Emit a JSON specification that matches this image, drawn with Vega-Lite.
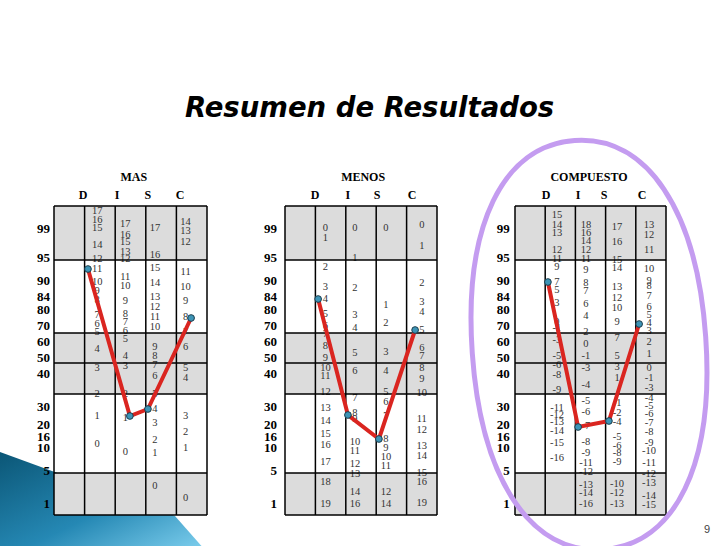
{
  "$schema": "https://vega.github.io/schema/vega-lite/v6.json",
  "background": "white",
  "padding": {"left": 0, "top": 95, "right": 0, "bottom": 0},
  "bounds": "flush",
  "spacing": 78,
  "config": {"view": {"stroke": null}},
  "datasets": {
    "bands": [{"from": 309, "to": 255}, {"from": 182, "to": 121}, {"from": 42, "to": 0}],
    "hlines": [{"pos": 309}, {"pos": 255}, {"pos": 182}, {"pos": 152}, {"pos": 121}, {"pos": 42}, {"pos": 0}],
    "vlines": [{"x": 0}, {"x": 1}, {"x": 2}, {"x": 3}, {"x": 4}, {"x": 5}],
    "scale": [
      {"pct": "99", "pos": 286}, {"pct": "95", "pos": 257}, {"pct": "90", "pos": 234}, {"pct": "84", "pos": 218},
      {"pct": "80", "pos": 205}, {"pct": "70", "pos": 189}, {"pct": "60", "pos": 173}, {"pct": "50", "pos": 157},
      {"pct": "40", "pos": 141}, {"pct": "30", "pos": 108}, {"pct": "20", "pos": 90}, {"pct": "16", "pos": 78},
      {"pct": "10", "pos": 67}, {"pct": "5", "pos": 44}, {"pct": "1", "pos": 11}
    ],
    "cols_MAS": [{"col": "D", "x": 1.41}, {"col": "I", "x": 2.33}, {"col": "S", "x": 3.3}, {"col": "C", "x": 4.3}],
    "cols_MENOS": [{"col": "D", "x": 1.33}, {"col": "I", "x": 2.3}, {"col": "S", "x": 3.32}, {"col": "C", "x": 4.5}],
    "cols_COMPUESTO": [{"col": "D", "x": 1.39}, {"col": "I", "x": 2.35}, {"col": "S", "x": 3.38}, {"col": "C", "x": 4.44}],
    "heads": [
      {"panel": "MAS", "label": "MAS", "x": 2.61, "pos": 338},
      {"panel": "MAS", "label": "D", "x": 0.95, "pos": 320},
      {"panel": "MAS", "label": "I", "x": 2.06, "pos": 320},
      {"panel": "MAS", "label": "S", "x": 3.07, "pos": 320},
      {"panel": "MAS", "label": "C", "x": 4.12, "pos": 320},
      {"panel": "MENOS", "label": "MENOS", "x": 2.57, "pos": 338},
      {"panel": "MENOS", "label": "D", "x": 0.99, "pos": 320},
      {"panel": "MENOS", "label": "I", "x": 2.07, "pos": 320},
      {"panel": "MENOS", "label": "S", "x": 3.03, "pos": 320},
      {"panel": "MENOS", "label": "C", "x": 4.18, "pos": 320},
      {"panel": "COMPUESTO", "label": "COMPUESTO", "x": 2.45, "pos": 338},
      {"panel": "COMPUESTO", "label": "D", "x": 1.03, "pos": 320},
      {"panel": "COMPUESTO", "label": "I", "x": 2.09, "pos": 320},
      {"panel": "COMPUESTO", "label": "S", "x": 2.95, "pos": 320},
      {"panel": "COMPUESTO", "label": "C", "x": 4.21, "pos": 320}
    ],
    "dots": [
      {"panel": "MAS", "col": "D", "ord": 1, "x": 1.11, "pos": 246},
      {"panel": "MAS", "col": "I", "ord": 2, "x": 2.48, "pos": 99},
      {"panel": "MAS", "col": "S", "ord": 3, "x": 3.07, "pos": 106},
      {"panel": "MAS", "col": "C", "ord": 4, "x": 4.48, "pos": 197},
      {"panel": "MENOS", "col": "D", "ord": 1, "x": 1.09, "pos": 216},
      {"panel": "MENOS", "col": "I", "ord": 2, "x": 2.07, "pos": 100},
      {"panel": "MENOS", "col": "S", "ord": 3, "x": 3.09, "pos": 76},
      {"panel": "MENOS", "col": "C", "ord": 4, "x": 4.28, "pos": 185},
      {"panel": "COMPUESTO", "col": "D", "ord": 1, "x": 1.09, "pos": 233},
      {"panel": "COMPUESTO", "col": "I", "ord": 2, "x": 2.09, "pos": 88},
      {"panel": "COMPUESTO", "col": "S", "ord": 3, "x": 3.11, "pos": 94},
      {"panel": "COMPUESTO", "col": "C", "ord": 4, "x": 4.11, "pos": 191}
    ],
    "slide": [
      {"item": "swoosh", "x": 0, "pos": 0},
      {"item": "title", "label": "Resumen de Resultados", "x": 2.78, "pos": 398},
      {"item": "ring", "x": 2.45, "pos": 170},
      {"item": "page", "label": "9", "x": 6.36, "pos": -15}
    ],
    "cells": [
      {"panel":"MAS","col":"D","score":"17","pos":304},{"panel":"MAS","col":"D","score":"16","pos":295},{"panel":"MAS","col":"D","score":"15","pos":287},{"panel":"MAS","col":"D","score":"14","pos":270},{"panel":"MAS","col":"D","score":"12","pos":256},{"panel":"MAS","col":"D","score":"11","pos":246},{"panel":"MAS","col":"D","score":"10","pos":233},{"panel":"MAS","col":"D","score":"9","pos":224},{"panel":"MAS","col":"D","score":"8","pos":215},{"panel":"MAS","col":"D","score":"7","pos":200},{"panel":"MAS","col":"D","score":"6","pos":191},{"panel":"MAS","col":"D","score":"5","pos":183},{"panel":"MAS","col":"D","score":"4","pos":166},{"panel":"MAS","col":"D","score":"3","pos":147},{"panel":"MAS","col":"D","score":"2","pos":121},{"panel":"MAS","col":"D","score":"1","pos":99},{"panel":"MAS","col":"D","score":"0","pos":71},
      {"panel":"MAS","col":"I","score":"17","pos":291},{"panel":"MAS","col":"I","score":"16","pos":280},{"panel":"MAS","col":"I","score":"15","pos":273},{"panel":"MAS","col":"I","score":"13","pos":263},{"panel":"MAS","col":"I","score":"12","pos":256},{"panel":"MAS","col":"I","score":"11","pos":238},{"panel":"MAS","col":"I","score":"10","pos":229},{"panel":"MAS","col":"I","score":"9","pos":214},{"panel":"MAS","col":"I","score":"8","pos":201},{"panel":"MAS","col":"I","score":"7","pos":193},{"panel":"MAS","col":"I","score":"6","pos":184},{"panel":"MAS","col":"I","score":"5","pos":176},{"panel":"MAS","col":"I","score":"4","pos":159},{"panel":"MAS","col":"I","score":"3","pos":149},{"panel":"MAS","col":"I","score":"2","pos":121},{"panel":"MAS","col":"I","score":"1","pos":97},{"panel":"MAS","col":"I","score":"0","pos":63},
      {"panel":"MAS","col":"S","score":"17","pos":287},{"panel":"MAS","col":"S","score":"16","pos":260},{"panel":"MAS","col":"S","score":"15","pos":247},{"panel":"MAS","col":"S","score":"14","pos":232},{"panel":"MAS","col":"S","score":"13","pos":218},{"panel":"MAS","col":"S","score":"12","pos":208},{"panel":"MAS","col":"S","score":"11","pos":198},{"panel":"MAS","col":"S","score":"10","pos":188},{"panel":"MAS","col":"S","score":"9","pos":168},{"panel":"MAS","col":"S","score":"8","pos":159},{"panel":"MAS","col":"S","score":"7","pos":150},{"panel":"MAS","col":"S","score":"6","pos":139},{"panel":"MAS","col":"S","score":"5","pos":121},{"panel":"MAS","col":"S","score":"4","pos":106},{"panel":"MAS","col":"S","score":"3","pos":92},{"panel":"MAS","col":"S","score":"2","pos":75},{"panel":"MAS","col":"S","score":"1","pos":62},{"panel":"MAS","col":"S","score":"0","pos":29},
      {"panel":"MAS","col":"C","score":"14","pos":293},{"panel":"MAS","col":"C","score":"13","pos":284},{"panel":"MAS","col":"C","score":"12","pos":273},{"panel":"MAS","col":"C","score":"11","pos":243},{"panel":"MAS","col":"C","score":"10","pos":228},{"panel":"MAS","col":"C","score":"9","pos":214},{"panel":"MAS","col":"C","score":"8","pos":198},{"panel":"MAS","col":"C","score":"7","pos":183},{"panel":"MAS","col":"C","score":"6","pos":168},{"panel":"MAS","col":"C","score":"5","pos":147},{"panel":"MAS","col":"C","score":"4","pos":137},{"panel":"MAS","col":"C","score":"3","pos":99},{"panel":"MAS","col":"C","score":"2","pos":83},{"panel":"MAS","col":"C","score":"1","pos":67},{"panel":"MAS","col":"C","score":"0","pos":17},
      {"panel":"MENOS","col":"D","score":"0","pos":287},{"panel":"MENOS","col":"D","score":"1","pos":277},{"panel":"MENOS","col":"D","score":"2","pos":248},{"panel":"MENOS","col":"D","score":"3","pos":228},{"panel":"MENOS","col":"D","score":"4","pos":216},{"panel":"MENOS","col":"D","score":"5","pos":201},{"panel":"MENOS","col":"D","score":"6","pos":189},{"panel":"MENOS","col":"D","score":"7","pos":181},{"panel":"MENOS","col":"D","score":"8","pos":169},{"panel":"MENOS","col":"D","score":"9","pos":157},{"panel":"MENOS","col":"D","score":"10","pos":147},{"panel":"MENOS","col":"D","score":"11","pos":139},{"panel":"MENOS","col":"D","score":"12","pos":123},{"panel":"MENOS","col":"D","score":"13","pos":107},{"panel":"MENOS","col":"D","score":"14","pos":94},{"panel":"MENOS","col":"D","score":"15","pos":81},{"panel":"MENOS","col":"D","score":"16","pos":70},{"panel":"MENOS","col":"D","score":"17","pos":53},{"panel":"MENOS","col":"D","score":"18","pos":33},{"panel":"MENOS","col":"D","score":"19","pos":11},
      {"panel":"MENOS","col":"I","score":"0","pos":287},{"panel":"MENOS","col":"I","score":"1","pos":257},{"panel":"MENOS","col":"I","score":"2","pos":227},{"panel":"MENOS","col":"I","score":"3","pos":200},{"panel":"MENOS","col":"I","score":"4","pos":187},{"panel":"MENOS","col":"I","score":"5","pos":162},{"panel":"MENOS","col":"I","score":"6","pos":144},{"panel":"MENOS","col":"I","score":"7","pos":117},{"panel":"MENOS","col":"I","score":"8","pos":102},{"panel":"MENOS","col":"I","score":"9","pos":96},{"panel":"MENOS","col":"I","score":"10","pos":73},{"panel":"MENOS","col":"I","score":"11","pos":64},{"panel":"MENOS","col":"I","score":"12","pos":51},{"panel":"MENOS","col":"I","score":"13","pos":41},{"panel":"MENOS","col":"I","score":"14","pos":23},{"panel":"MENOS","col":"I","score":"16","pos":11},
      {"panel":"MENOS","col":"S","score":"0","pos":287},{"panel":"MENOS","col":"S","score":"1","pos":210},{"panel":"MENOS","col":"S","score":"2","pos":192},{"panel":"MENOS","col":"S","score":"3","pos":163},{"panel":"MENOS","col":"S","score":"4","pos":144},{"panel":"MENOS","col":"S","score":"5","pos":123},{"panel":"MENOS","col":"S","score":"6","pos":113},{"panel":"MENOS","col":"S","score":"7","pos":99},{"panel":"MENOS","col":"S","score":"8","pos":76},{"panel":"MENOS","col":"S","score":"9","pos":67},{"panel":"MENOS","col":"S","score":"10","pos":58},{"panel":"MENOS","col":"S","score":"11","pos":49},{"panel":"MENOS","col":"S","score":"12","pos":23},{"panel":"MENOS","col":"S","score":"14","pos":11},
      {"panel":"MENOS","col":"C","score":"0","pos":290},{"panel":"MENOS","col":"C","score":"1","pos":269},{"panel":"MENOS","col":"C","score":"2","pos":232},{"panel":"MENOS","col":"C","score":"3","pos":213},{"panel":"MENOS","col":"C","score":"4","pos":203},{"panel":"MENOS","col":"C","score":"5","pos":185},{"panel":"MENOS","col":"C","score":"6","pos":167},{"panel":"MENOS","col":"C","score":"7","pos":159},{"panel":"MENOS","col":"C","score":"8","pos":147},{"panel":"MENOS","col":"C","score":"9","pos":136},{"panel":"MENOS","col":"C","score":"10","pos":122},{"panel":"MENOS","col":"C","score":"11","pos":96},{"panel":"MENOS","col":"C","score":"12","pos":85},{"panel":"MENOS","col":"C","score":"13","pos":69},{"panel":"MENOS","col":"C","score":"14","pos":59},{"panel":"MENOS","col":"C","score":"15","pos":42},{"panel":"MENOS","col":"C","score":"16","pos":33},{"panel":"MENOS","col":"C","score":"19","pos":12},
      {"panel":"COMPUESTO","col":"D","score":"15","pos":300},{"panel":"COMPUESTO","col":"D","score":"14","pos":290},{"panel":"COMPUESTO","col":"D","score":"13","pos":282},{"panel":"COMPUESTO","col":"D","score":"12","pos":265},{"panel":"COMPUESTO","col":"D","score":"11","pos":256},{"panel":"COMPUESTO","col":"D","score":"9","pos":248},{"panel":"COMPUESTO","col":"D","score":"7","pos":233},{"panel":"COMPUESTO","col":"D","score":"5","pos":225},{"panel":"COMPUESTO","col":"D","score":"3","pos":212},{"panel":"COMPUESTO","col":"D","score":"0","pos":193},{"panel":"COMPUESTO","col":"D","score":"-1","pos":187},{"panel":"COMPUESTO","col":"D","score":"-3","pos":175},{"panel":"COMPUESTO","col":"D","score":"-5","pos":159},{"panel":"COMPUESTO","col":"D","score":"-6","pos":150},{"panel":"COMPUESTO","col":"D","score":"-8","pos":140},{"panel":"COMPUESTO","col":"D","score":"-9","pos":125},{"panel":"COMPUESTO","col":"D","score":"-11","pos":107},{"panel":"COMPUESTO","col":"D","score":"-12","pos":100},{"panel":"COMPUESTO","col":"D","score":"-13","pos":93},{"panel":"COMPUESTO","col":"D","score":"-14","pos":84},{"panel":"COMPUESTO","col":"D","score":"-15","pos":72},{"panel":"COMPUESTO","col":"D","score":"-16","pos":57},
      {"panel":"COMPUESTO","col":"I","score":"18","pos":290},{"panel":"COMPUESTO","col":"I","score":"16","pos":282},{"panel":"COMPUESTO","col":"I","score":"14","pos":274},{"panel":"COMPUESTO","col":"I","score":"12","pos":265},{"panel":"COMPUESTO","col":"I","score":"11","pos":256},{"panel":"COMPUESTO","col":"I","score":"9","pos":245},{"panel":"COMPUESTO","col":"I","score":"8","pos":232},{"panel":"COMPUESTO","col":"I","score":"7","pos":224},{"panel":"COMPUESTO","col":"I","score":"6","pos":211},{"panel":"COMPUESTO","col":"I","score":"4","pos":199},{"panel":"COMPUESTO","col":"I","score":"2","pos":183},{"panel":"COMPUESTO","col":"I","score":"0","pos":171},{"panel":"COMPUESTO","col":"I","score":"-1","pos":159},{"panel":"COMPUESTO","col":"I","score":"-3","pos":147},{"panel":"COMPUESTO","col":"I","score":"-4","pos":130},{"panel":"COMPUESTO","col":"I","score":"-5","pos":114},{"panel":"COMPUESTO","col":"I","score":"-6","pos":103},{"panel":"COMPUESTO","col":"I","score":"-7","pos":89},{"panel":"COMPUESTO","col":"I","score":"-8","pos":73},{"panel":"COMPUESTO","col":"I","score":"-9","pos":62},{"panel":"COMPUESTO","col":"I","score":"-11","pos":52},{"panel":"COMPUESTO","col":"I","score":"-12","pos":43},{"panel":"COMPUESTO","col":"I","score":"-13","pos":30},{"panel":"COMPUESTO","col":"I","score":"-14","pos":22},{"panel":"COMPUESTO","col":"I","score":"-16","pos":11},
      {"panel":"COMPUESTO","col":"S","score":"17","pos":288},{"panel":"COMPUESTO","col":"S","score":"16","pos":273},{"panel":"COMPUESTO","col":"S","score":"15","pos":255},{"panel":"COMPUESTO","col":"S","score":"14","pos":247},{"panel":"COMPUESTO","col":"S","score":"13","pos":228},{"panel":"COMPUESTO","col":"S","score":"12","pos":217},{"panel":"COMPUESTO","col":"S","score":"10","pos":207},{"panel":"COMPUESTO","col":"S","score":"9","pos":193},{"panel":"COMPUESTO","col":"S","score":"7","pos":177},{"panel":"COMPUESTO","col":"S","score":"5","pos":159},{"panel":"COMPUESTO","col":"S","score":"3","pos":148},{"panel":"COMPUESTO","col":"S","score":"1","pos":137},{"panel":"COMPUESTO","col":"S","score":"-1","pos":112},{"panel":"COMPUESTO","col":"S","score":"-2","pos":102},{"panel":"COMPUESTO","col":"S","score":"-4","pos":93},{"panel":"COMPUESTO","col":"S","score":"-5","pos":78},{"panel":"COMPUESTO","col":"S","score":"-6","pos":69},{"panel":"COMPUESTO","col":"S","score":"-8","pos":62},{"panel":"COMPUESTO","col":"S","score":"-9","pos":53},{"panel":"COMPUESTO","col":"S","score":"-10","pos":31},{"panel":"COMPUESTO","col":"S","score":"-12","pos":22},{"panel":"COMPUESTO","col":"S","score":"-13","pos":11},
      {"panel":"COMPUESTO","col":"C","score":"13","pos":290},{"panel":"COMPUESTO","col":"C","score":"12","pos":280},{"panel":"COMPUESTO","col":"C","score":"11","pos":265},{"panel":"COMPUESTO","col":"C","score":"10","pos":246},{"panel":"COMPUESTO","col":"C","score":"9","pos":234},{"panel":"COMPUESTO","col":"C","score":"8","pos":229},{"panel":"COMPUESTO","col":"C","score":"7","pos":219},{"panel":"COMPUESTO","col":"C","score":"6","pos":208},{"panel":"COMPUESTO","col":"C","score":"5","pos":200},{"panel":"COMPUESTO","col":"C","score":"4","pos":192},{"panel":"COMPUESTO","col":"C","score":"3","pos":184},{"panel":"COMPUESTO","col":"C","score":"2","pos":173},{"panel":"COMPUESTO","col":"C","score":"1","pos":161},{"panel":"COMPUESTO","col":"C","score":"0","pos":147},{"panel":"COMPUESTO","col":"C","score":"-1","pos":137},{"panel":"COMPUESTO","col":"C","score":"-3","pos":127},{"panel":"COMPUESTO","col":"C","score":"-4","pos":117},{"panel":"COMPUESTO","col":"C","score":"-5","pos":109},{"panel":"COMPUESTO","col":"C","score":"-6","pos":101},{"panel":"COMPUESTO","col":"C","score":"-7","pos":92},{"panel":"COMPUESTO","col":"C","score":"-8","pos":83},{"panel":"COMPUESTO","col":"C","score":"-9","pos":72},{"panel":"COMPUESTO","col":"C","score":"-10","pos":64},{"panel":"COMPUESTO","col":"C","score":"-11","pos":52},{"panel":"COMPUESTO","col":"C","score":"-12","pos":41},{"panel":"COMPUESTO","col":"C","score":"-13","pos":32},{"panel":"COMPUESTO","col":"C","score":"-14","pos":19},{"panel":"COMPUESTO","col":"C","score":"-15","pos":10}
    ]
  },
  "hconcat": [
    {
      "width": 153, "height": 309,
      "layer": [
        {"data": {"name": "slide"}, "transform": [{"filter": "datum.item === 'swoosh'"}],
         "mark": {"type": "point", "shape": "M -54 -63 L 121 1 L 151 35 L -54 35 Z", "size": 4, "filled": true, "opacity": 1, "strokeWidth": 0,
           "fill": {"gradient": "linear", "x1": 0, "y1": 0, "x2": 1, "y2": 1, "stops": [{"offset": 0, "color": "#0b5676"}, {"offset": 0.55, "color": "#2588b4"}, {"offset": 1, "color": "#7fd0ef"}]}},
         "encoding": {"x": {"field": "x", "type": "quantitative", "scale": {"domain": [0, 5], "nice": false, "zero": false}, "axis": null}, "y": {"field": "pos", "type": "quantitative", "scale": {"domain": [0, 309], "nice": false, "zero": false}, "axis": null}}},
        {"data": {"name": "bands"}, "mark": {"type": "rect", "color": "#dcdcdc"},
         "encoding": {"x": {"datum": 0, "type": "quantitative", "axis": null}, "x2": {"datum": 5}, "y": {"field": "from", "type": "quantitative", "axis": null}, "y2": {"field": "to"}}},
        {"data": {"name": "cells"}, "transform": [{"filter": "datum.panel === 'MAS'"}, {"lookup": "col", "from": {"data": {"name": "cols_MAS"}, "key": "col", "fields": ["x"]}}],
         "mark": {"type": "text", "font": "Liberation Serif", "fontSize": 10.5, "color": "#333333"},
         "encoding": {"x": {"field": "x", "type": "quantitative", "axis": null}, "y": {"field": "pos", "type": "quantitative", "axis": null}, "text": {"field": "score", "type": "nominal"}}},
        {"data": {"name": "hlines"}, "mark": {"type": "rule", "color": "#000000", "strokeWidth": 1.5},
         "encoding": {"x": {"datum": 0, "type": "quantitative", "axis": null}, "x2": {"datum": 5}, "y": {"field": "pos", "type": "quantitative", "axis": null}}},
        {"data": {"name": "vlines"}, "mark": {"type": "rule", "color": "#000000", "strokeWidth": 1.5},
         "encoding": {"x": {"field": "x", "type": "quantitative", "axis": null}, "y": {"datum": 0, "type": "quantitative", "axis": null}, "y2": {"datum": 309}}},
        {"data": {"name": "dots"}, "transform": [{"filter": "datum.panel === 'MAS'"}],
         "mark": {"type": "line", "color": "#da2520", "strokeWidth": 4},
         "encoding": {"x": {"field": "x", "type": "quantitative", "axis": null}, "y": {"field": "pos", "type": "quantitative", "axis": null}, "order": {"field": "ord", "type": "quantitative"}}},
        {"data": {"name": "dots"}, "transform": [{"filter": "datum.panel === 'MAS'"}],
         "mark": {"type": "point", "filled": true, "size": 45, "fill": "#3d94b6", "stroke": "#1c3e4d", "strokeWidth": 1, "opacity": 1},
         "encoding": {"x": {"field": "x", "type": "quantitative", "axis": null}, "y": {"field": "pos", "type": "quantitative", "axis": null}}},
        {"data": {"name": "heads"}, "transform": [{"filter": "datum.panel === 'MAS'"}],
         "mark": {"type": "text", "font": "Liberation Serif", "fontWeight": "bold", "fontSize": 12, "color": "#000000"},
         "encoding": {"x": {"field": "x", "type": "quantitative", "axis": null}, "y": {"field": "pos", "type": "quantitative", "axis": null}, "text": {"field": "label", "type": "nominal"}}},
        {"data": {"name": "scale"},
         "mark": {"type": "text", "font": "Liberation Serif", "fontWeight": "bold", "fontSize": 13, "align": "right", "color": "#000000"},
         "encoding": {"x": {"datum": -0.13, "type": "quantitative", "axis": null}, "y": {"field": "pos", "type": "quantitative", "axis": null}, "text": {"field": "pct", "type": "nominal"}}}
      ]
    },
    {
      "width": 152, "height": 309,
      "layer": [
        {"data": {"name": "bands"}, "mark": {"type": "rect", "color": "#dcdcdc"},
         "encoding": {"x": {"datum": 0, "type": "quantitative", "scale": {"domain": [0, 5], "nice": false, "zero": false}, "axis": null}, "x2": {"datum": 5}, "y": {"field": "from", "type": "quantitative", "scale": {"domain": [0, 309], "nice": false, "zero": false}, "axis": null}, "y2": {"field": "to"}}},
        {"data": {"name": "cells"}, "transform": [{"filter": "datum.panel === 'MENOS'"}, {"lookup": "col", "from": {"data": {"name": "cols_MENOS"}, "key": "col", "fields": ["x"]}}],
         "mark": {"type": "text", "font": "Liberation Serif", "fontSize": 10.5, "color": "#333333"},
         "encoding": {"x": {"field": "x", "type": "quantitative", "axis": null}, "y": {"field": "pos", "type": "quantitative", "axis": null}, "text": {"field": "score", "type": "nominal"}}},
        {"data": {"name": "hlines"}, "mark": {"type": "rule", "color": "#000000", "strokeWidth": 1.5},
         "encoding": {"x": {"datum": 0, "type": "quantitative", "axis": null}, "x2": {"datum": 5}, "y": {"field": "pos", "type": "quantitative", "axis": null}}},
        {"data": {"name": "vlines"}, "mark": {"type": "rule", "color": "#000000", "strokeWidth": 1.5},
         "encoding": {"x": {"field": "x", "type": "quantitative", "axis": null}, "y": {"datum": 0, "type": "quantitative", "axis": null}, "y2": {"datum": 309}}},
        {"data": {"name": "dots"}, "transform": [{"filter": "datum.panel === 'MENOS'"}],
         "mark": {"type": "line", "color": "#da2520", "strokeWidth": 4},
         "encoding": {"x": {"field": "x", "type": "quantitative", "axis": null}, "y": {"field": "pos", "type": "quantitative", "axis": null}, "order": {"field": "ord", "type": "quantitative"}}},
        {"data": {"name": "dots"}, "transform": [{"filter": "datum.panel === 'MENOS'"}],
         "mark": {"type": "point", "filled": true, "size": 45, "fill": "#3d94b6", "stroke": "#1c3e4d", "strokeWidth": 1, "opacity": 1},
         "encoding": {"x": {"field": "x", "type": "quantitative", "axis": null}, "y": {"field": "pos", "type": "quantitative", "axis": null}}},
        {"data": {"name": "heads"}, "transform": [{"filter": "datum.panel === 'MENOS'"}],
         "mark": {"type": "text", "font": "Liberation Serif", "fontWeight": "bold", "fontSize": 12, "color": "#000000"},
         "encoding": {"x": {"field": "x", "type": "quantitative", "axis": null}, "y": {"field": "pos", "type": "quantitative", "axis": null}, "text": {"field": "label", "type": "nominal"}}},
        {"data": {"name": "scale"},
         "mark": {"type": "text", "font": "Liberation Serif", "fontWeight": "bold", "fontSize": 13, "align": "right", "color": "#000000"},
         "encoding": {"x": {"datum": -0.26, "type": "quantitative", "axis": null}, "y": {"field": "pos", "type": "quantitative", "axis": null}, "text": {"field": "pct", "type": "nominal"}}},
        {"data": {"name": "slide"}, "transform": [{"filter": "datum.item === 'title'"}],
         "mark": {"type": "text", "font": "DejaVu Sans", "fontWeight": "bold", "fontStyle": "italic", "fontSize": 27.5, "baseline": "alphabetic", "align": "center", "color": "#000000"},
         "encoding": {"x": {"field": "x", "type": "quantitative", "axis": null}, "y": {"field": "pos", "type": "quantitative", "axis": null}, "text": {"field": "label", "type": "nominal"}}}
      ]
    },
    {
      "width": 151, "height": 309,
      "layer": [
        {"data": {"name": "bands"}, "mark": {"type": "rect", "color": "#dcdcdc"},
         "encoding": {"x": {"datum": 0, "type": "quantitative", "scale": {"domain": [0, 5], "nice": false, "zero": false}, "axis": null}, "x2": {"datum": 5}, "y": {"field": "from", "type": "quantitative", "scale": {"domain": [0, 309], "nice": false, "zero": false}, "axis": null}, "y2": {"field": "to"}}},
        {"data": {"name": "cells"}, "transform": [{"filter": "datum.panel === 'COMPUESTO'"}, {"lookup": "col", "from": {"data": {"name": "cols_COMPUESTO"}, "key": "col", "fields": ["x"]}}],
         "mark": {"type": "text", "font": "Liberation Serif", "fontSize": 10.5, "color": "#333333"},
         "encoding": {"x": {"field": "x", "type": "quantitative", "axis": null}, "y": {"field": "pos", "type": "quantitative", "axis": null}, "text": {"field": "score", "type": "nominal"}}},
        {"data": {"name": "hlines"}, "mark": {"type": "rule", "color": "#000000", "strokeWidth": 1.5},
         "encoding": {"x": {"datum": 0, "type": "quantitative", "axis": null}, "x2": {"datum": 5}, "y": {"field": "pos", "type": "quantitative", "axis": null}}},
        {"data": {"name": "vlines"}, "mark": {"type": "rule", "color": "#000000", "strokeWidth": 1.5},
         "encoding": {"x": {"field": "x", "type": "quantitative", "axis": null}, "y": {"datum": 0, "type": "quantitative", "axis": null}, "y2": {"datum": 309}}},
        {"data": {"name": "dots"}, "transform": [{"filter": "datum.panel === 'COMPUESTO'"}],
         "mark": {"type": "line", "color": "#da2520", "strokeWidth": 4},
         "encoding": {"x": {"field": "x", "type": "quantitative", "axis": null}, "y": {"field": "pos", "type": "quantitative", "axis": null}, "order": {"field": "ord", "type": "quantitative"}}},
        {"data": {"name": "dots"}, "transform": [{"filter": "datum.panel === 'COMPUESTO'"}],
         "mark": {"type": "point", "filled": true, "size": 45, "fill": "#3d94b6", "stroke": "#1c3e4d", "strokeWidth": 1, "opacity": 1},
         "encoding": {"x": {"field": "x", "type": "quantitative", "axis": null}, "y": {"field": "pos", "type": "quantitative", "axis": null}}},
        {"data": {"name": "heads"}, "transform": [{"filter": "datum.panel === 'COMPUESTO'"}],
         "mark": {"type": "text", "font": "Liberation Serif", "fontWeight": "bold", "fontSize": 12, "color": "#000000"},
         "encoding": {"x": {"field": "x", "type": "quantitative", "axis": null}, "y": {"field": "pos", "type": "quantitative", "axis": null}, "text": {"field": "label", "type": "nominal"}}},
        {"data": {"name": "scale"},
         "mark": {"type": "text", "font": "Liberation Serif", "fontWeight": "bold", "fontSize": 13, "align": "right", "color": "#000000"},
         "encoding": {"x": {"datum": -0.17, "type": "quantitative", "axis": null}, "y": {"field": "pos", "type": "quantitative", "axis": null}, "text": {"field": "pct", "type": "nominal"}}},
        {"data": {"name": "slide"}, "transform": [{"filter": "datum.item === 'page'"}],
         "mark": {"type": "text", "font": "Liberation Sans", "fontSize": 11, "color": "#444444"},
         "encoding": {"x": {"field": "x", "type": "quantitative", "axis": null}, "y": {"field": "pos", "type": "quantitative", "axis": null}, "text": {"field": "label", "type": "nominal"}}},
        {"data": {"name": "slide"}, "transform": [{"filter": "datum.item === 'ring'"}],
         "mark": {"type": "point", "shape": "M 0 -205 C 72.5 -205 117 -127 117 0 C 117 127 72.5 205 0 205 C -72.5 205 -117 127 -117 0 C -117 -127 -72.5 -205 0 -205 Z", "size": 4, "filled": false, "stroke": "#c49cf0", "strokeWidth": 5, "opacity": 1, "angle": -4},
         "encoding": {"x": {"field": "x", "type": "quantitative", "axis": null}, "y": {"field": "pos", "type": "quantitative", "axis": null}}}
      ]
    }
  ]
}
